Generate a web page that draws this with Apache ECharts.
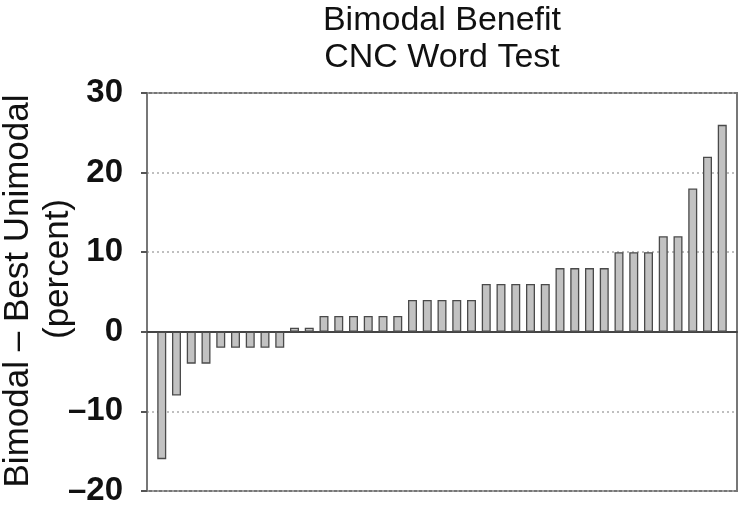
<!DOCTYPE html>
<html>
<head>
<meta charset="utf-8">
<script src="https://cdn.jsdelivr.net/npm/echarts@6/dist/echarts.min.js"></script>
<style>
html,body{margin:0;padding:0;background:#fff;}
#chart{width:742px;height:508px;}
</style>
</head>
<body>
<div id="chart"></div>
<script>
// Subjects (rank order, 1..39)
const subjects = [1,2,3,4,5,6,7,8,9,10,11,12,13,14,15,16,17,18,19,20,21,22,23,24,25,26,27,28,29,30,31,32,33,34,35,36,37,38,39];
// Bimodal - Best Unimodal benefit (percent)
const benefit = [-16,-8,-4,-4,-2,-2,-2,-2,-2,0.5,0.5,2,2,2,2,2,2,4,4,4,4,4,6,6,6,6,6,8,8,8,8,10,10,10,12,12,18,22,26];
const yTicks = [-20,-10,0,10,20,30];
const yTickLabels = ['\u201320','\u201310','0','10','20','30'];
const titleLines = ['Bimodal Benefit','CNC Word Test'];
const yNameLines = ['Bimodal \u2013 Best Unimodal','(percent)'];

const chart = echarts.init(document.getElementById('chart'), null, {renderer:'canvas'});
const FONT = '"Liberation Sans", Arial, Helvetica, sans-serif';
chart.setOption({
  animation:false,
  backgroundColor:'#fff',
  title:{
    text: titleLines.join('\n'),
    left: 437, top: -3, textAlign:'center',
    textStyle:{fontFamily:FONT, fontSize:34, fontWeight:'normal', color:'#111', lineHeight:37}
  },
  grid:{left:147, right:5, top:93, bottom:17, show:true, borderColor:'#777', borderWidth:2, backgroundColor:'transparent'},
  xAxis:{
    type:'value', min:0, max:subjects.length+1,
    axisLine:{show:true, onZero:true, lineStyle:{color:'#444', width:2}},
    axisTick:{show:false}, axisLabel:{show:false}, splitLine:{show:false}
  },
  yAxis:{
    type:'value', min:yTicks[0], max:yTicks[yTicks.length-1], interval:10,
    axisLine:{show:true, lineStyle:{color:'#777', width:2}},
    axisTick:{show:true, length:6, lineStyle:{color:'#555', width:2}},
    axisLabel:{margin:24, padding:[6,0,0,0], fontFamily:FONT, fontSize:33, fontWeight:'bold', color:'#111',
      formatter:function(v){const i=yTicks.indexOf(v); return i>=0?yTickLabels[i]:'';}},
    splitLine:{show:true, lineStyle:{type:[2,3], color:'#aaa', width:1.5}}
  },
  series:[{
    type:'bar',
    data: subjects.map((s,i)=>[s, benefit[i]]),
    barWidth:9,
    itemStyle:{color:'#c2c2c2', borderColor:'#4a4a4a', borderWidth:1.3},
    z:3
  }],
  graphic:[
    {type:'text', x:18, y:291, rotation:Math.PI/2,
      style:{text:yNameLines[0], font:'normal 35px '+FONT, fill:'#111', align:'center', verticalAlign:'middle'}},
    {type:'text', x:58, y:269, rotation:Math.PI/2,
      style:{text:yNameLines[1], font:'normal 35px '+FONT, fill:'#111', align:'center', verticalAlign:'middle'}}
  ]
});
</script>
</body>
</html>
